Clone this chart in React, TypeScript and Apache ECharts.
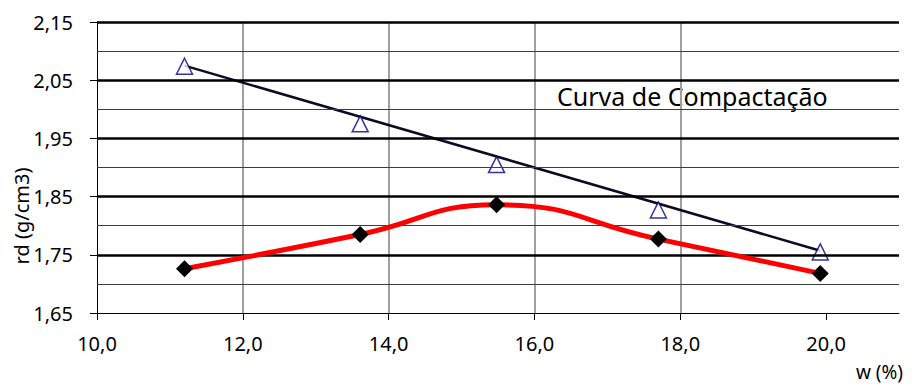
import React, { useEffect, useRef } from "react";
import * as echarts from "echarts";

const moisture = [11.2, 13.61, 15.48, 17.7, 19.92];
const dryDensity = [1.726, 1.785, 1.836, 1.777, 1.718];
const saturationDensity = [2.074, 1.975, 1.905, 1.827, 1.755];
const saturationLineX = [11.2, 19.92];
const saturationLineY = [2.075, 1.757];
const yMajorTicks = [1.65, 1.75, 1.85, 1.95, 2.05, 2.15];
const yMinorLines = [1.7, 1.8, 1.9, 2.0, 2.1];
const xTicks = [10, 12, 14, 16, 18, 20];
const chartTitle = "Curva de Compactação";
const yTitle = "rd (g/cm3)";
const xTitle = "w (%)";

const FONT = "'Noto Sans', sans-serif";

export default function App() {
  const ref = useRef<HTMLDivElement>(null);
  useEffect(() => {
    if (!ref.current) return;
    const chart = echarts.init(ref.current, null, { renderer: "svg" });
    chart.setOption({
      animation: false,
      backgroundColor: "#ffffff",
      grid: { left: 97, right: 18, top: 22, bottom: 74 },
      xAxis: {
        type: "value",
        min: 10,
        max: 21,
        interval: 2,
        axisLine: { show: true, lineStyle: { color: "#000", width: 1 } },
        axisTick: { show: true, customValues: xTicks, length: 7, lineStyle: { color: "#000" } },
        axisLabel: {
          customValues: xTicks,
          formatter: (v: number) => v.toFixed(1).replace(".", ","),
          color: "#000",
          fontSize: 20,
          fontFamily: FONT,
          margin: 20,
        },
        splitLine: {
          show: true,
          showMinLine: false,
          showMaxLine: false,
          lineStyle: { color: "#a0a0a0", width: 2 },
        },
      },
      yAxis: {
        type: "value",
        min: 1.65,
        max: 2.15,
        interval: 0.05,
        axisLine: { show: true, lineStyle: { color: "#000", width: 1 } },
        axisTick: { show: true, customValues: yMajorTicks, length: 7, lineStyle: { color: "#000" } },
        axisLabel: {
          customValues: yMajorTicks,
          formatter: (v: number) => v.toFixed(2).replace(".", ","),
          color: "#000",
          fontSize: 20,
          fontFamily: FONT,
          margin: 24,
        },
        splitLine: { show: false },
      },
      series: [
        {
          type: "line",
          data: [],
          silent: true,
          markLine: {
            silent: true,
            symbol: ["none", "none"],
            label: { show: false },
            data: [
              ...yMinorLines.map((v) => ({
                yAxis: v,
                lineStyle: { color: "#3c3c3c", width: 1.2, type: "solid" },
              })),
              ...yMajorTicks.slice(1).map((v) => ({
                yAxis: v,
                lineStyle: { color: "#000", width: 2.5, type: "solid" },
              })),
            ],
          },
        },
        {
          type: "line",
          data: saturationLineX.map((x, i) => [x, saturationLineY[i]]),
          showSymbol: false,
          symbol: "none",
          lineStyle: { color: "#0b0b24", width: 2.5 },
          z: 3,
        },
        {
          type: "scatter",
          data: moisture.map((x, i) => [x, saturationDensity[i]]),
          symbol: "triangle",
          symbolSize: [16, 16],
          itemStyle: { color: "#ffffff", borderColor: "#000080", borderWidth: 1.5 },
          z: 4,
        },
        {
          type: "line",
          data: moisture.map((x, i) => [x, dryDensity[i]]),
          smooth: 0.5,
          symbol: "diamond",
          symbolSize: [17, 17],
          showSymbol: true,
          lineStyle: { color: "#ff0000", width: 5 },
          itemStyle: { color: "#000000", borderWidth: 0 },
          z: 5,
        },
      ],
      graphic: [
        {
          type: "text",
          x: 557,
          y: 96,
          style: {
            text: chartTitle,
            fontSize: 25,
            fontFamily: FONT,
            fill: "#000",
            align: "left",
            verticalAlign: "middle",
          },
        },
        {
          type: "text",
          x: 21,
          y: 216,
          rotation: Math.PI / 2,
          style: {
            text: yTitle,
            fontSize: 20,
            fontFamily: FONT,
            fill: "#000",
            align: "center",
            verticalAlign: "middle",
          },
        },
        {
          type: "text",
          x: 856,
          y: 372,
          style: {
            text: xTitle,
            fontSize: 19,
            lineHeight: 19,
            fontFamily: FONT,
            fill: "#000",
            align: "left",
            verticalAlign: "middle",
          },
        },
      ],
    });
    return () => chart.dispose();
  }, []);
  return <div ref={ref} style={{ width: 917, height: 387, position: "absolute", left: 0, top: 0 }} />;
}
